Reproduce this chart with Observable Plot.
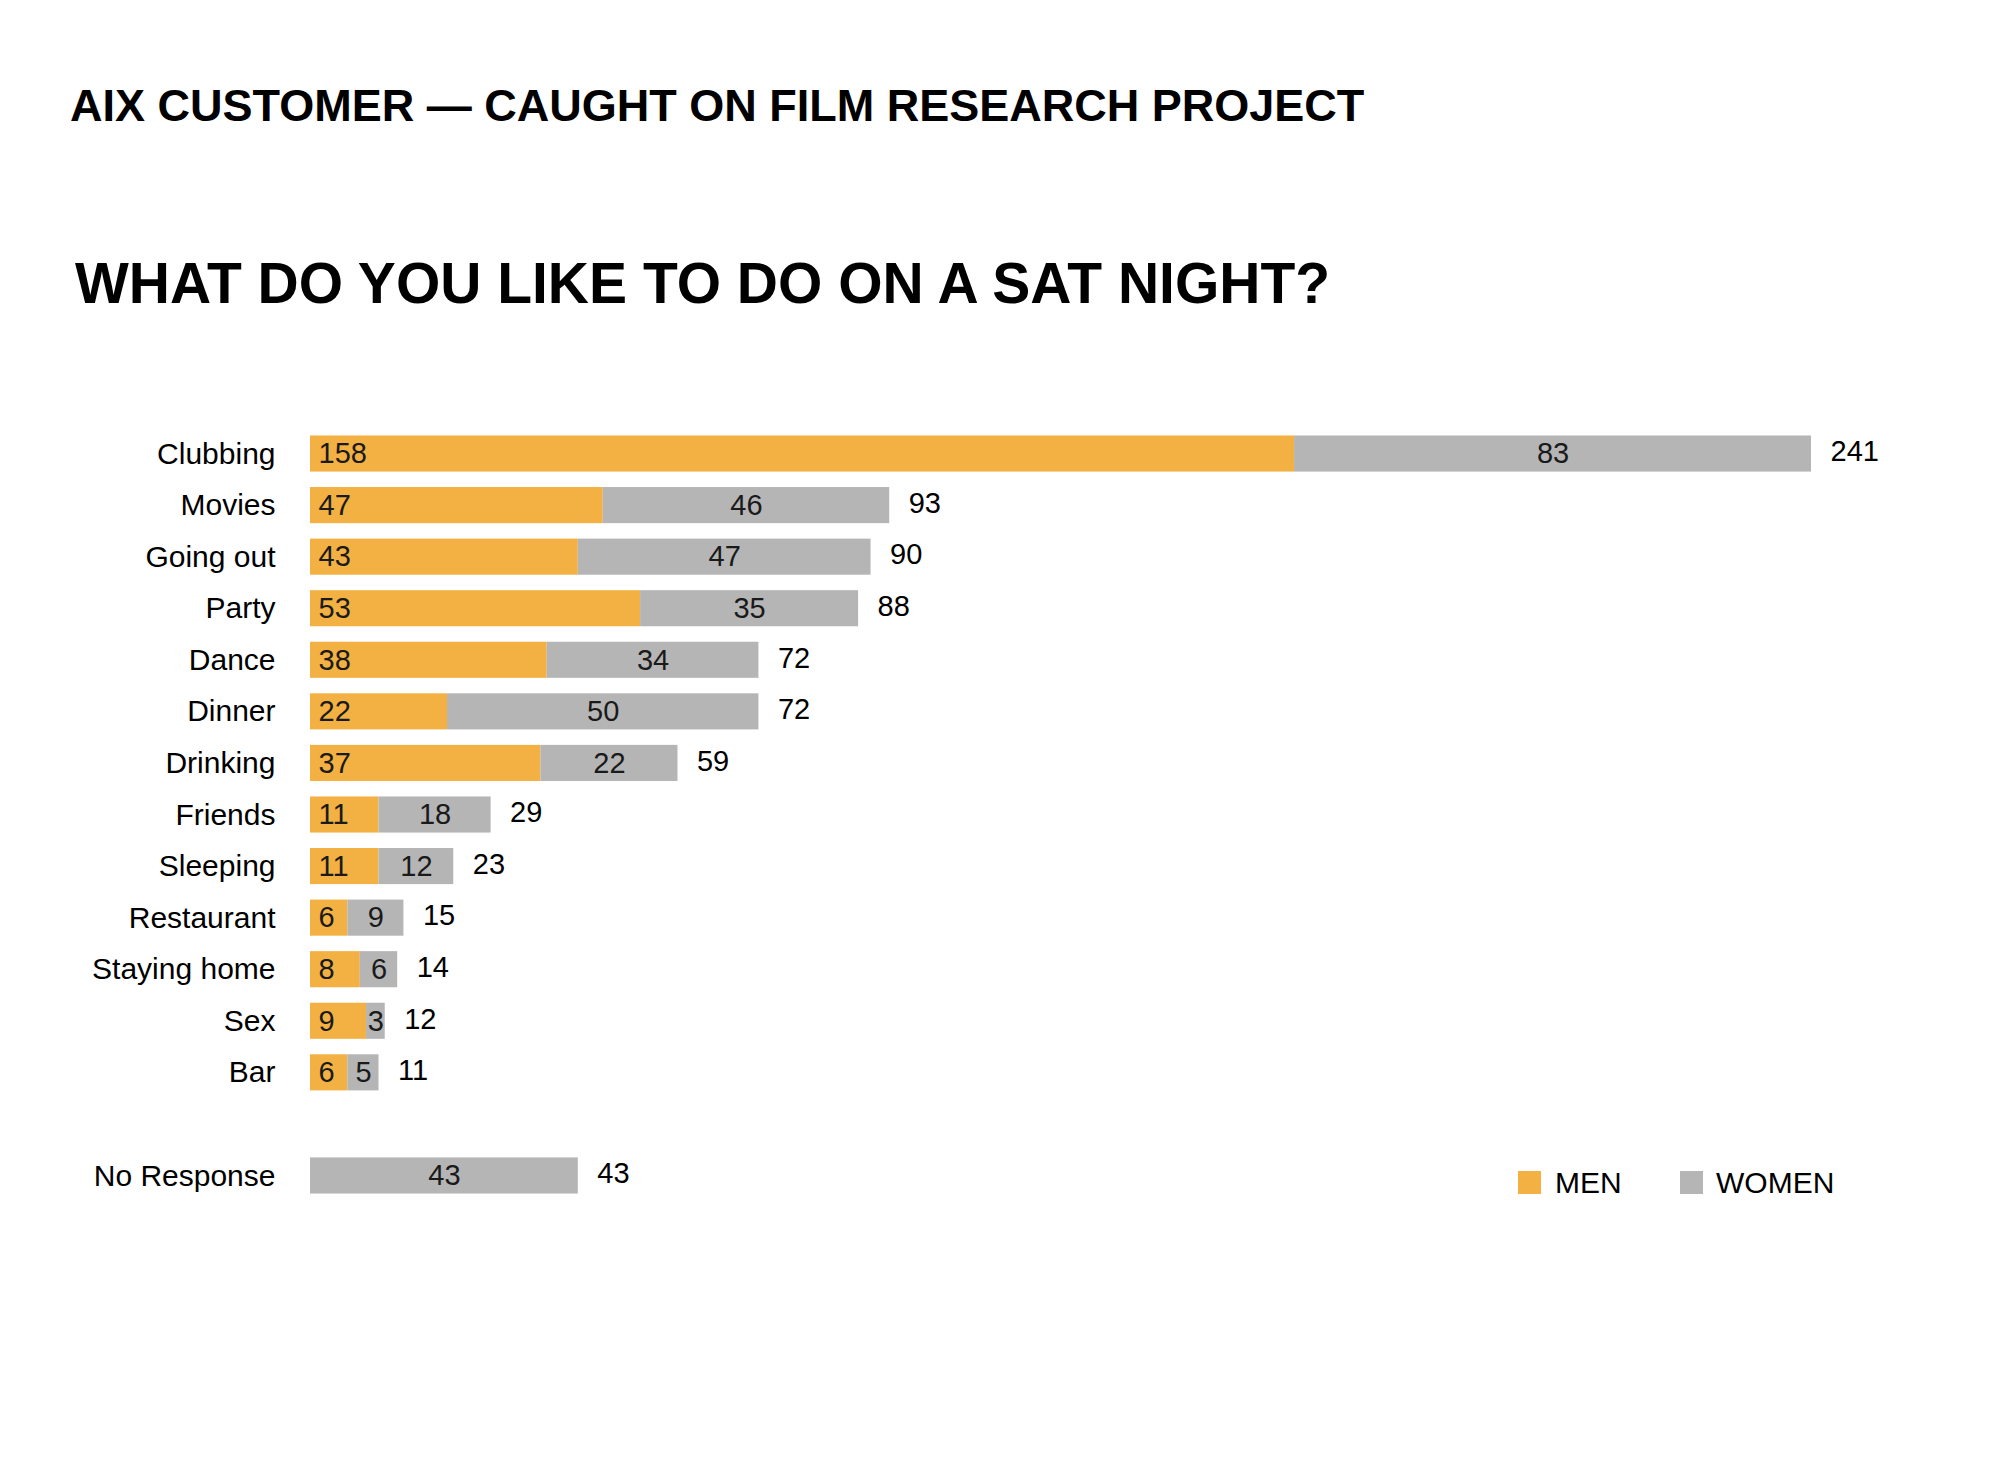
<!DOCTYPE html>
<html>
<head>
<meta charset="utf-8">
<script src="https://cdn.jsdelivr.net/npm/d3@7"></script>
<script src="https://cdn.jsdelivr.net/npm/@observablehq/plot@0.6"></script>
<style>
  html, body { margin: 0; padding: 0; background: #ffffff; }
  body { width: 1998px; height: 1470px; position: relative; font-family: "Liberation Sans", Arial, Helvetica, sans-serif; color: #000; }
  .t1 { position: absolute; left: 70px; top: 83px; font-size: 45px; line-height: 45px; font-weight: bold; white-space: nowrap; }
  .t2 { position: absolute; left: 75px; top: 255px; font-size: 57px; line-height: 57px; font-weight: bold; white-space: nowrap; }
  #chart { position: absolute; left: 0; top: 380px; }
  .lg-sw { position: absolute; width: 23px; height: 23px; top: 1171px; }
  .lg-tx { position: absolute; top: 1168px; font-size: 30px; line-height: 30px; white-space: nowrap; }
</style>
</head>
<body>
<div class="t1">AIX CUSTOMER — CAUGHT ON FILM RESEARCH PROJECT</div>
<div class="t2">WHAT DO YOU LIKE TO DO ON A SAT NIGHT?</div>
<div id="chart"></div>
<div class="lg-sw" id="sw-men" style="left:1518px;"></div>
<div class="lg-tx" id="tx-men" style="left:1555px;"></div>
<div class="lg-sw" id="sw-women" style="left:1680px;"></div>
<div class="lg-tx" id="tx-women" style="left:1716px;"></div>
<script>
// ---- data ----
const categories = ["Clubbing", "Movies", "Going out", "Party", "Dance", "Dinner", "Drinking",
  "Friends", "Sleeping", "Restaurant", "Staying home", "Sex", "Bar", "No Response"];
const men    = [158, 47, 43, 53, 38, 22, 37, 11, 11, 6, 8, 9, 6, 0];
const women  = [83, 46, 47, 35, 34, 50, 22, 18, 12, 9, 6, 3, 5, 43];
const totals = [241, 93, 90, 88, 72, 72, 59, 29, 23, 15, 14, 12, 11, 43];
const seriesNames = ["MEN", "WOMEN"];
const seriesColors = ["#F2B142", "#B5B5B5"];

// y domain: blank slot before "No Response"
const gap = " ";
const yDomain = [...categories.slice(0, 13), gap, categories[13]];

const long = [];
categories.forEach((c, i) => {
  long.push({cat: c, series: "MEN", value: men[i]});
  long.push({cat: c, series: "WOMEN", value: women[i]});
});
const menLabels = categories.map((c, i) => ({cat: c, v: men[i]})).filter(d => d.v > 0);
const womenLabels = categories.map((c, i) => ({cat: c, v: women[i], mid: men[i] + women[i] / 2}));
const totalLabels = categories.map((c, i) => ({cat: c, v: totals[i]}));

const chart = Plot.plot({
  width: 1998,
  height: 850,
  marginLeft: 310,
  marginRight: 187,
  marginTop: 40,
  marginBottom: 21,
  style: {fontFamily: "'Liberation Sans', Arial, Helvetica, sans-serif", fontSize: "30px", color: "#000", background: "#fff"},
  x: {domain: [0, 241], axis: null},
  y: {domain: yDomain, padding: 0.3, round: false, label: null, axis: null},
  color: {domain: seriesNames, range: seriesColors},
  marks: [
    Plot.barX(long, {x: "value", y: "cat", fill: "series"}),
    Plot.axisY({tickSize: 0, tickPadding: 35, fontSize: 30, label: null, fill: "#000"}),
    Plot.text(menLabels, {x: 0, y: "cat", text: d => String(d.v), textAnchor: "start", dx: 8, fontSize: 29, fill: "#1a1a1a"}),
    Plot.text(womenLabels, {x: "mid", y: "cat", text: d => String(d.v), textAnchor: "middle", fontSize: 29, fill: "#1a1a1a"}),
    Plot.text(totalLabels, {x: "v", y: "cat", text: d => String(d.v), textAnchor: "start", dx: 19, dy: -2, fontSize: 29, fill: "#000"})
  ]
});
document.getElementById("chart").appendChild(chart);

document.getElementById("sw-men").style.background = seriesColors[0];
document.getElementById("sw-women").style.background = seriesColors[1];
document.getElementById("tx-men").textContent = seriesNames[0];
document.getElementById("tx-women").textContent = seriesNames[1];
</script>
</body>
</html>
